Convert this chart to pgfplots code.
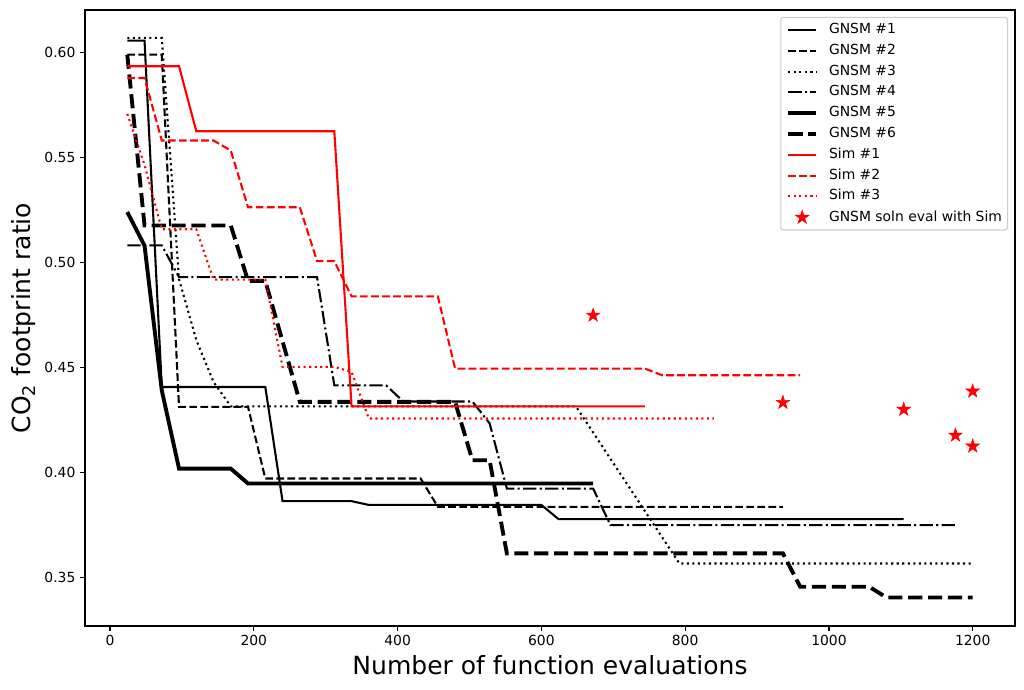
\documentclass[border=0pt]{standalone}
\usepackage{fontspec}
\setmainfont{DejaVu Sans}
\usepackage{pgfplots}
\pgfplotsset{compat=1.18}

\pgfdeclareplotmark{fstar}{%
  \pgfpathmoveto{\pgfpointpolar{90}{\pgfplotmarksize}}%
  \pgfpathlineto{\pgfpointpolar{126}{0.381966*\pgfplotmarksize}}%
  \pgfpathlineto{\pgfpointpolar{162}{\pgfplotmarksize}}%
  \pgfpathlineto{\pgfpointpolar{198}{0.381966*\pgfplotmarksize}}%
  \pgfpathlineto{\pgfpointpolar{234}{\pgfplotmarksize}}%
  \pgfpathlineto{\pgfpointpolar{270}{0.381966*\pgfplotmarksize}}%
  \pgfpathlineto{\pgfpointpolar{306}{\pgfplotmarksize}}%
  \pgfpathlineto{\pgfpointpolar{342}{0.381966*\pgfplotmarksize}}%
  \pgfpathlineto{\pgfpointpolar{18}{\pgfplotmarksize}}%
  \pgfpathlineto{\pgfpointpolar{54}{0.381966*\pgfplotmarksize}}%
  \pgfpathclose
  \pgfusepathqfillstroke}

\tikzset{
  thinline/.style={line width=1.5625pt},
  thickline/.style={line width=2.9pt},
  mdashed/.style={dash pattern=on 5.78pt off 2.5pt},
  mdotted/.style={dash pattern=on 1.5625pt off 2.58pt},
  mdashdot/.style={dash pattern=on 10pt off 2.5pt on 1.5625pt off 2.5pt},
  mthickdashed/.style={dash pattern=on 10.6pt off 4.3pt},
}

\begin{document}
\begin{tikzpicture}
\useasboundingbox (-63.75pt,-47.25pt) rectangle (704.25pt,469.5pt);
\begin{axis}[
  at={(0pt,0pt)}, anchor=south west,
  scale only axis, width=697.5pt, height=462pt,
  xmin=-34.8, xmax=1258.8, ymin=0.3267, ymax=0.6203,
  xtick={0,200,400,600,800,1000,1200},
  ytick={0.35,0.40,0.45,0.50,0.55,0.60},
  scaled x ticks=false, scaled y ticks=false,
  xticklabel style={/pgf/number format/1000 sep={}},
  yticklabel style={/pgf/number format/.cd, fixed, fixed zerofill, precision=2},
  /pgf/number format/assume math mode=true,
  tick align=outside, tick pos=left,
  major tick length=3.65pt,
  every tick/.style={black, line width=0.83pt},
  axis line style={line width=0.83pt},
  ticklabel style={font=\fontsize{10.42}{12}\selectfont},
  xlabel={Number of function evaluations},
  ylabel={CO\textsubscript{2} footprint ratio},
  label style={font=\fontsize{18.75}{22}\selectfont},
  legend cell align=left,
  legend image code/.code={\draw[mark repeat=2,mark phase=2,#1] plot coordinates {(0pt,0pt)(10.4pt,0pt)(20.8pt,0pt)};},
  legend style={at={(1,1)}, anchor=north east, xshift=-5.2pt, yshift=-5.2pt,
    draw={rgb,1:red,0.8;green,0.8;blue,0.8}, line width=0.8pt, rounded corners=2pt,
    font=\fontsize{10.42}{12}\selectfont,
    nodes={inner sep=0pt, text height=7.9pt, text depth=2.5pt},
    row sep=5.2pt, column sep=8.3pt, inner xsep=4.2pt, inner ysep=4.2pt},
]
% GNSM #1
\addplot[black, thinline, no marks] coordinates {
(24,0.6057) (48,0.6057) (72,0.4406) (216,0.4406) (240,0.3862) (336,0.3862)
(360,0.3844) (600,0.3844) (624,0.3776) (1104,0.3776)};
\addlegendentry{GNSM \#1}
% GNSM #2
\addplot[black, thinline, mdashed, no marks] coordinates {
(24,0.599) (72,0.599) (96,0.4311) (192,0.4311) (216,0.397) (432,0.397)
(456,0.3835) (936,0.3835)};
\addlegendentry{GNSM \#2}
% GNSM #3
\addplot[black, thinline, mdotted, no marks] coordinates {
(24,0.607) (72,0.607) (96,0.492) (120,0.463) (144,0.443) (168,0.4314)
(648,0.4314) (792,0.3565) (1200,0.3565)};
\addlegendentry{GNSM \#3}
% GNSM #4
\addplot[black, thinline, mdashdot, no marks] coordinates {
(24,0.5081) (72,0.5081) (96,0.493) (288,0.493) (312,0.4414) (384,0.4414)
(408,0.4337) (504,0.4337) (528,0.4233) (552,0.3922) (672,0.3922)
(696,0.3748) (1176,0.3748)};
\addlegendentry{GNSM \#4}
% GNSM #5
\addplot[black, thickline, no marks] coordinates {
(24,0.524) (48,0.508) (72,0.439) (96,0.4017) (168,0.4017) (192,0.3946) (672,0.3946)};
\addlegendentry{GNSM \#5}
% GNSM #6
\addplot[black, thickline, mthickdashed, no marks] coordinates {
(24,0.599) (48,0.5176) (168,0.5176) (192,0.4912) (216,0.4912) (264,0.4335)
(480,0.4335) (504,0.4057) (528,0.4057) (552,0.3613) (936,0.3613)
(960,0.3454) (1056,0.3454) (1080,0.3403) (1200,0.3403)};
\addlegendentry{GNSM \#6}
% Sim #1
\addplot[red, thinline, no marks] coordinates {
(24,0.5935) (96,0.5935) (120,0.5625) (312,0.5625) (336,0.4314) (744,0.4314)};
\addlegendentry{Sim \#1}
% Sim #2
\addplot[red, thinline, mdashed, no marks] coordinates {
(24,0.5879) (48,0.5879) (72,0.5581) (144,0.5581) (168,0.5533) (192,0.5263)
(264,0.5263) (288,0.5006) (312,0.5006) (336,0.4838) (456,0.4838)
(480,0.4494) (744,0.4494) (768,0.4462) (960,0.4462)};
\addlegendentry{Sim \#2}
% Sim #3
\addplot[red, thinline, mdotted, no marks] coordinates {
(24,0.5708) (48,0.5465) (72,0.5158) (120,0.5158) (144,0.4918) (216,0.4918)
(240,0.4502) (312,0.4502) (336,0.4478) (360,0.4256) (840,0.4256)};
\addlegendentry{Sim \#3}
% stars
\addplot[red, only marks, mark=fstar, mark size=5.4pt, mark options={line width=0.4pt}] coordinates {
(672,0.4748) (936,0.4332) (1104,0.4299) (1200,0.4386) (1176,0.4176) (1200,0.4124)};
\addlegendentry{GNSM soln eval with Sim}
\end{axis}
\end{tikzpicture}
\end{document}
